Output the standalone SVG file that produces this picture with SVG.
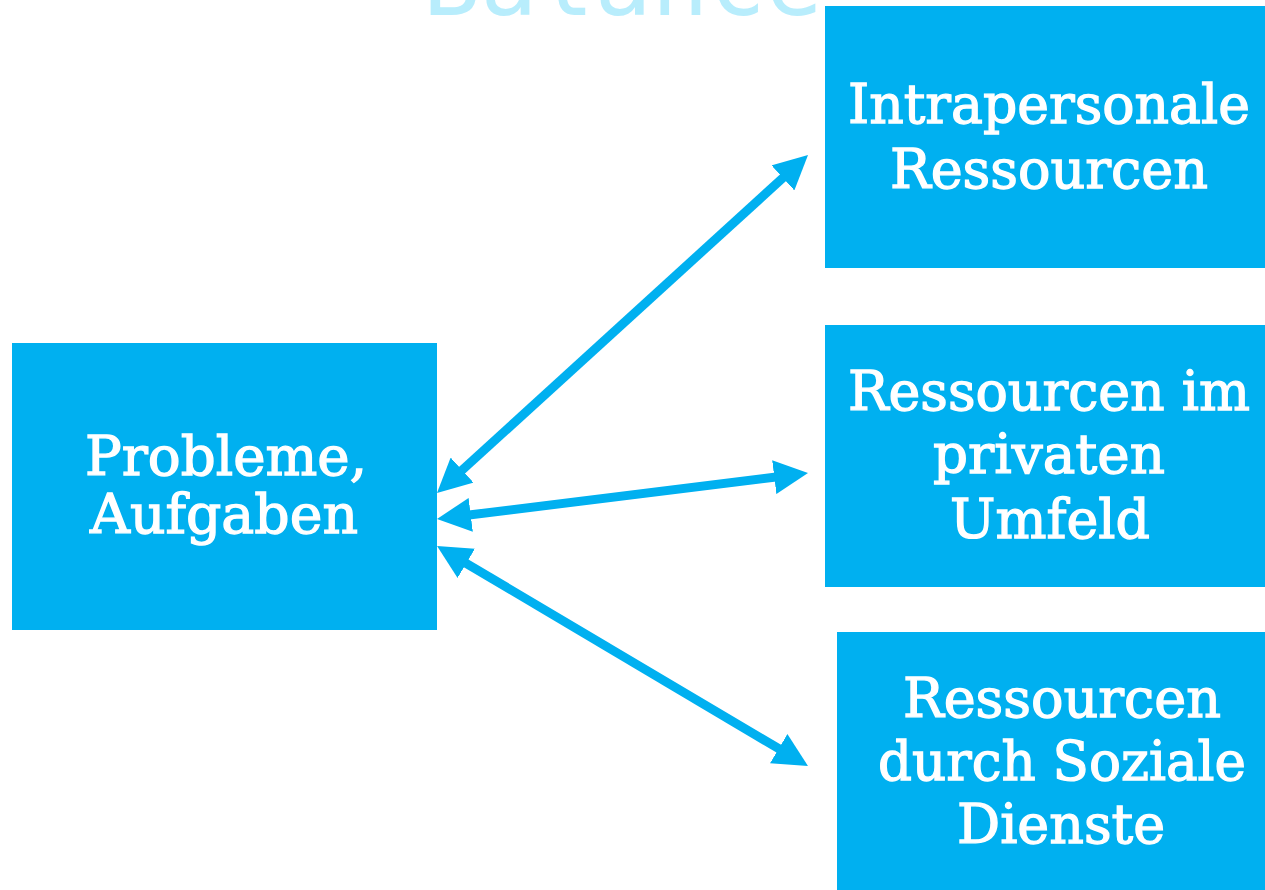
<svg xmlns="http://www.w3.org/2000/svg" width="1265" height="890" viewBox="0 0 1265 890">
<style>
.box{fill:#00B0F0}
.t{font-family:"DejaVu Serif","Liberation Serif",serif;font-size:54px;fill:#FFFFFF;stroke:#FFFFFF;stroke-width:1.3;text-anchor:middle}
.conn{stroke:#00B0F0;stroke-width:9;fill:none;marker-start:url(#ah);marker-end:url(#ah)}
</style>
<defs>
<marker id="ah" viewBox="0 0 34 34" refX="8" refY="17" markerWidth="34" markerHeight="34" markerUnits="userSpaceOnUse" orient="auto-start-reverse">
<path d="M0,0 L34,17 L0,34 z" fill="#00B0F0"/>
</marker>
</defs>
<rect width="1265" height="890" fill="#FFFFFF"/>
<text x="423" y="15" font-family="DejaVu Sans Mono, Liberation Mono, monospace" font-size="94" fill="#B8EDFC" textLength="400" lengthAdjust="spacingAndGlyphs">Balance</text>
<g id="connectors">
<line class="conn" x1="456.2" y1="475.5" x2="788.8" y2="172.5"/>
<line class="conn" x1="462.8" y1="515.8" x2="782.2" y2="476.2"/>
<line class="conn" x1="459.4" y1="559.3" x2="785.6" y2="752.7"/>
</g>
<g id="probleme">
<rect class="box" x="12" y="343" width="425" height="287"/>
<text class="t" x="226" y="475" textLength="282" lengthAdjust="spacingAndGlyphs">Probleme,</text>
<text class="t" x="224" y="533" textLength="268" lengthAdjust="spacingAndGlyphs">Aufgaben</text>
</g>
<g id="intrapersonal">
<rect class="box" x="825" y="6" width="440" height="262"/>
<text class="t" x="1049" y="123" textLength="402" lengthAdjust="spacingAndGlyphs">Intrapersonale</text>
<text class="t" x="1049" y="188" textLength="318" lengthAdjust="spacingAndGlyphs">Ressourcen</text>
</g>
<g id="privat">
<rect class="box" x="825" y="325" width="440" height="262"/>
<text class="t" x="1049" y="410" textLength="402" lengthAdjust="spacingAndGlyphs">Ressourcen im</text>
<text class="t" x="1049" y="473" textLength="232" lengthAdjust="spacingAndGlyphs">privaten</text>
<text class="t" x="1050" y="538" textLength="200" lengthAdjust="spacingAndGlyphs">Umfeld</text>
</g>
<g id="sozial">
<rect class="box" x="837" y="632" width="428" height="258"/>
<text class="t" x="1062" y="717" textLength="318" lengthAdjust="spacingAndGlyphs">Ressourcen</text>
<text class="t" x="1062" y="780" textLength="368" lengthAdjust="spacingAndGlyphs">durch Soziale</text>
<text class="t" x="1061" y="843" textLength="208" lengthAdjust="spacingAndGlyphs">Dienste</text>
</g>
</svg>
